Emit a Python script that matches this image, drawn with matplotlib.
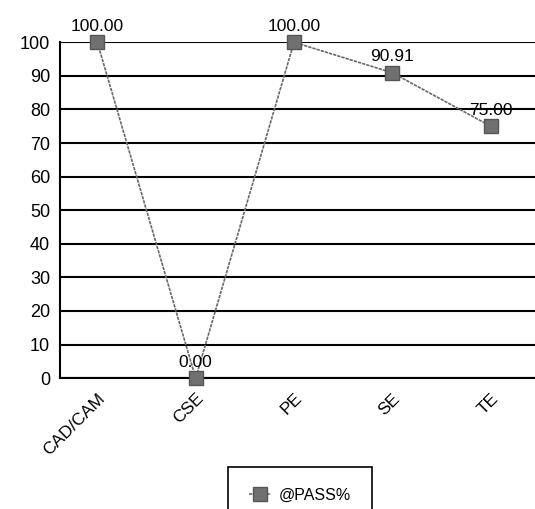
import matplotlib
matplotlib.use("Agg")
import matplotlib.pyplot as plt
import matplotlib.transforms as mtransforms

categories = ["CAD/CAM", "CSE", "PE", "SE", "TE"]
pass_pct = [100.00, 0.00, 100.00, 90.91, 75.00]
yticks = [0, 10, 20, 30, 40, 50, 60, 70, 80, 90, 100]

plt.rcParams['font.family'] = ['Liberation Sans', 'DejaVu Sans']

fig = plt.figure(figsize=(5.35, 5.09), dpi=100)
ax = fig.add_axes([0.112, 0.257, 0.888, 0.66])

x = list(range(len(categories)))
ax.plot(x, pass_pct, color="#6a6a6a", lw=1.2, ls=(0, (2, 0.6)),
        marker="s", markersize=10.5, markerfacecolor="#707070",
        markeredgecolor="#555555", label="@PASS%", zorder=3, clip_on=False)

for xi, v in zip(x, pass_pct):
    ax.annotate(f"{v:.2f}", (xi, v), xytext=(0, 6), textcoords="offset points",
                ha="center", va="bottom", fontsize=12.5, zorder=4)

ax.set_ylim(0, 100)
ax.set_xlim(-0.38, 4.45)
ax.set_yticks(yticks)
ax.set_xticks(x)
ax.set_xticklabels(categories, rotation=45, ha="right", rotation_mode="anchor", fontsize=12.5)
offset = mtransforms.ScaledTranslation(14 / 100, 0, fig.dpi_scale_trans)
for lab in ax.get_xticklabels():
    lab.set_transform(lab.get_transform() + offset)
ax.tick_params(axis="y", labelsize=13, length=0, pad=7)
ax.tick_params(axis="x", length=0, pad=9)
ax.grid(axis="y", color="black", lw=1.5)
ax.set_axisbelow(True)
for s in ["top", "right"]:
    ax.spines[s].set_visible(False)
for s in ["left", "bottom"]:
    ax.spines[s].set_linewidth(1.5)

leg = fig.legend(loc="upper center", bbox_to_anchor=(0.561, 1 - 467 / 509), fontsize=11.5,
                 fancybox=False, edgecolor="black", framealpha=1, handlelength=1.4,
                 borderpad=1.3, handletextpad=0.5, borderaxespad=0)
leg.get_frame().set_linewidth(1.2)

fig.savefig("out.png", dpi=100)
